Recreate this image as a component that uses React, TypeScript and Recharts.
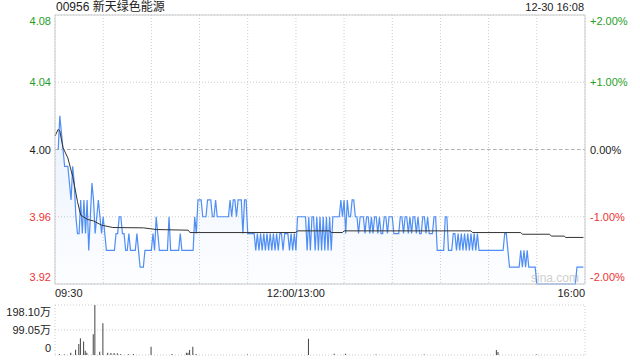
import React from 'react';
import { ComposedChart, Area, Line, Bar, XAxis, YAxis, CartesianGrid, ReferenceLine } from 'recharts';

// 00956 intraday, one value per minute from 09:30 (index 0)
const prevClose = 4.0;

const price = [
  4.00, 4.00, 4.00, 4.02, 4.01, 4.00, 3.99, 3.99, 3.99, 3.98,
  3.97, 3.99, 3.98, 3.96, 3.95, 3.95, 3.97, 3.95, 3.97, 3.95,
  3.97, 3.94, 3.96, 3.98, 3.97, 3.95, 3.96, 3.97, 3.96, 3.95,
  3.96, 3.95, 3.94, 3.94, 3.94, 3.94, 3.94, 3.94, 3.95, 3.95,
  3.96, 3.96, 3.95, 3.95, 3.94, 3.94, 3.95, 3.94, 3.94, 3.94,
  3.94, 3.95, 3.94, 3.93, 3.93, 3.93, 3.94, 3.94, 3.94, 3.94,
  3.94, 3.95, 3.94, 3.96, 3.95, 3.94, 3.94, 3.94, 3.94, 3.94,
  3.94, 3.96, 3.94, 3.94, 3.94, 3.94, 3.94, 3.94, 3.95, 3.94,
  3.94, 3.94, 3.94, 3.94, 3.94, 3.94, 3.94, 3.96, 3.95, 3.97,
  3.97, 3.97, 3.96, 3.96, 3.96, 3.97, 3.97, 3.97, 3.96, 3.96,
  3.97, 3.96, 3.96, 3.96, 3.96, 3.96, 3.96, 3.96, 3.96, 3.97,
  3.96, 3.97, 3.97, 3.96, 3.97, 3.97, 3.97, 3.95, 3.97, 3.97,
  3.95, 3.95, 3.95, 3.95, 3.95, 3.94, 3.95, 3.94, 3.95, 3.94,
  3.95, 3.94, 3.95, 3.94, 3.95, 3.94, 3.95, 3.94, 3.95, 3.94,
  3.95, 3.95, 3.94, 3.95, 3.95, 3.95, 3.94, 3.95, 3.94, 3.95,
  3.94, 3.96, 3.96, 3.96, 3.96, 3.96, 3.96, 3.94, 3.96, 3.94,
  3.96, 3.96, 3.94, 3.96, 3.94, 3.96, 3.94, 3.96, 3.94, 3.96,
  3.94, 3.96, 3.94, 3.96, 3.96, 3.96, 3.96, 3.96, 3.97, 3.96,
  3.97, 3.95, 3.97, 3.96, 3.96, 3.97, 3.97, 3.96, 3.96, 3.95,
  3.96, 3.96, 3.96, 3.95, 3.96, 3.96, 3.95, 3.96, 3.95, 3.96,
  3.96, 3.95, 3.96, 3.95, 3.95, 3.96, 3.96, 3.95, 3.96, 3.96,
  3.96, 3.95, 3.95, 3.95, 3.95, 3.96, 3.96, 3.95, 3.96, 3.96,
  3.95, 3.96, 3.95, 3.96, 3.96, 3.95, 3.96, 3.95, 3.95, 3.96,
  3.96, 3.95, 3.96, 3.95, 3.95, 3.95, 3.96, 3.96, 3.94, 3.94,
  3.94, 3.94, 3.94, 3.96, 3.96, 3.94, 3.94, 3.94, 3.95, 3.95,
  3.94, 3.95, 3.94, 3.95, 3.94, 3.95, 3.94, 3.95, 3.94, 3.95,
  3.94, 3.95, 3.94, 3.95, 3.94, 3.94, 3.94, 3.94, 3.94, 3.94,
  3.94, 3.94, 3.94, 3.94, 3.94, 3.94, 3.94, 3.94, 3.94, 3.94,
  3.95, 3.95, 3.94, 3.93, 3.93, 3.93, 3.93, 3.93, 3.93, 3.93,
  3.94, 3.93, 3.94, 3.93, 3.94, 3.93, 3.93, 3.93, 3.93, 3.93,
  3.92, 3.92, 3.92, 3.92, 3.92, 3.92, 3.92, 3.92, 3.92, 3.92,
  3.92, 3.92, 3.92, 3.92, 3.92, 3.92, 3.92, 3.92, 3.92, 3.92,
  3.92, 3.92, 3.92, 3.92, 3.92, 3.93, 3.93, 3.93, 3.93, 3.93,
];

// average price line, read at its corners
const avgTimes = [0, 2, 3, 5, 8, 11, 14, 16, 20, 24, 29, 36, 55, 63, 83, 84, 150, 151, 171, 172, 179, 180, 259, 260, 290, 291, 308, 309, 317, 318, 329];
const avgValues = [4.008, 4.012, 4.011, 4.001, 3.995, 3.984, 3.969, 3.961, 3.9585, 3.9575, 3.955, 3.9536, 3.9534, 3.9524, 3.952, 3.9506, 3.9506, 3.9516, 3.9516, 3.9506, 3.9506, 3.9516, 3.9516, 3.9506, 3.9506, 3.9496, 3.9496, 3.9485, 3.9485, 3.9477, 3.9477];

// volume in 万 shares (minutes without a visible bar are left out)
const volTimes = [3, 6, 10, 13, 15, 16, 18, 19, 20, 24, 25, 28, 30, 33, 35, 37, 39, 41, 46, 49, 60, 73, 82, 83, 84, 86, 88, 120, 158, 174, 181, 200, 230, 275, 276, 300];
const volValues = [3, 2, 9, 21, 44, 66, 53, 17, 9, 82, 198.1, 13, 126, 9, 8, 8, 7, 3, 3, 4, 33, 4, 9, 9, 20, 33, 4, 2, 64, 5, 5, 2, 2, 20, 12, 2];

const priceTicks = [3.92, 3.96, 4.0, 4.04, 4.08];
const pctTicks = [-2, -1, 0, 1, 2];
const timeTicks = [0, 30, 60, 90, 120, 150, 180, 210, 240, 270, 300, 330];
const timeLabels: Record<number, string> = { 0: '09:30', 150: '12:00/13:00', 330: '16:00' };
const volTicks = [0, 99.05, 198.1];
const volLabels = ['0', '99.05万', '198.10万'];

const priceRows = price.map((p, i) => ({ t: i, price: p, pct: ((p - prevClose) / prevClose) * 100 }));
const avgRows = avgTimes.map((t, i) => ({ t, avg: avgValues[i] }));
const volRows = volTimes.map((t, i) => ({ t, vol: volValues[i] }));

const FONT = '"Liberation Sans", Arial, "Noto Sans CJK SC", sans-serif';
const GREEN = '#1f9e1f';
const RED = '#ee3333';
const tone = (d: number) => (d > 1e-9 ? GREEN : d < -1e-9 ? RED : '#222');

const PriceTick = ({ x, y, payload }: any) => {
  const v = payload.value as number;
  const dy = Math.abs(v - 4.08) < 1e-6 ? 6 : Math.abs(v - 3.92) < 1e-6 ? -7 : 0;
  return (
    <text x={x} y={y + dy} textAnchor="end" dominantBaseline="central" fontSize={11} fontFamily={FONT} fill={tone(v - prevClose)}>
      {v.toFixed(2)}
    </text>
  );
};

const PctTick = ({ x, y, payload }: any) => {
  const v = payload.value as number;
  const dy = v === 2 ? 6 : v === -2 ? -7 : 0;
  return (
    <text x={x} y={y + dy} textAnchor="start" dominantBaseline="central" fontSize={11} fontFamily={FONT} fill={tone(v)}>
      {(v > 0 ? '+' : '') + v.toFixed(2) + '%'}
    </text>
  );
};

const TimeTick = ({ x, y, payload }: any) => {
  const v = payload.value as number;
  const label = timeLabels[v];
  if (!label) return null;
  const anchor = v === 0 ? 'start' : v === 330 ? 'end' : 'middle';
  return (
    <text x={x} y={y + 9} textAnchor={anchor} dominantBaseline="central" fontSize={11} fontFamily={FONT} fill="#222">
      {label}
    </text>
  );
};

const VolTick = ({ x, y, payload, index }: any) => {
  const dy = index === 2 ? 7 : index === 0 ? -7 : 0;
  return (
    <text x={x} y={y + dy} textAnchor="end" dominantBaseline="central" fontSize={11} fontFamily={FONT} fill="#222">
      {volLabels[index] ?? String(payload.value)}
    </text>
  );
};

export default function App() {
  return (
    <div style={{ position: 'absolute', left: 0, top: 0, width: 640, height: 360, background: '#fff', fontFamily: FONT }}>
      <div style={{ position: 'absolute', left: 56, top: 0, fontSize: 12, lineHeight: '14px', color: '#222' }}>00956 新天绿色能源</div>
      <div style={{ position: 'absolute', right: 56, top: 1, fontSize: 11, lineHeight: '13px', color: '#222' }}>12-30 16:08</div>
      <div style={{ position: 'absolute', left: 531, top: 271, fontSize: 12, color: '#cfcfcf' }}>sina.com</div>

      <div style={{ position: 'absolute', left: 0, top: 0 }}>
        <ComposedChart width={640} height={304} data={priceRows} margin={{ top: 15, right: 0, bottom: 0, left: 0 }}>
          <defs>
            <linearGradient id="priceFill" x1="0" y1="0" x2="0" y2="1">
              <stop offset="0%" stopColor="#4f8ef5" stopOpacity={0.2} />
              <stop offset="100%" stopColor="#4f8ef5" stopOpacity={0.02} />
            </linearGradient>
          </defs>
          <CartesianGrid yAxisId="left" stroke="#cccccc" strokeDasharray="1 2" />
          <XAxis
            dataKey="t"
            type="number"
            domain={[0, 330]}
            ticks={timeTicks}
            interval={0}
            height={20}
            tickSize={0}
            tickMargin={0}
            tickLine={false}
            axisLine={{ stroke: '#cccccc' }}
            tick={<TimeTick />}
          />
          <YAxis
            yAxisId="left"
            orientation="left"
            domain={[3.92, 4.08]}
            ticks={priceTicks}
            interval={0}
            width={55}
            tickSize={0}
            tickMargin={4}
            tickLine={false}
            axisLine={{ stroke: '#cccccc' }}
            tick={<PriceTick />}
          />
          <YAxis
            yAxisId="right"
            orientation="right"
            domain={[-2, 2]}
            ticks={pctTicks}
            interval={0}
            width={55}
            tickSize={0}
            tickMargin={5}
            tickLine={false}
            axisLine={{ stroke: '#cccccc' }}
            tick={<PctTick />}
          />
          <ReferenceLine yAxisId="left" y={4.08} stroke="#cccccc" />
          <ReferenceLine yAxisId="left" y={4.0} stroke="#b0b0b0" strokeDasharray="3 3" />
          <Area
            yAxisId="left"
            type="linear"
            dataKey="price"
            stroke="#4f8ef5"
            strokeWidth={1.2}
            fill="url(#priceFill)"
            dot={false}
            activeDot={false}
            isAnimationActive={false}
          />
          <Line
            yAxisId="right"
            type="linear"
            dataKey="pct"
            stroke="none"
            dot={false}
            activeDot={false}
            isAnimationActive={false}
          />
          <Line
            yAxisId="left"
            type="linear"
            data={avgRows}
            dataKey="avg"
            stroke="#333333"
            strokeWidth={1}
            dot={false}
            activeDot={false}
            isAnimationActive={false}
          />
        </ComposedChart>
      </div>

      <div style={{ position: 'absolute', left: 0, top: 298 }}>
        <ComposedChart width={640} height={62} data={volRows} margin={{ top: 7, right: 55, bottom: 5, left: 0 }}>
          <CartesianGrid vertical={false} stroke="#cccccc" strokeDasharray="1 2" />
          <XAxis dataKey="t" type="number" domain={[0, 330]} hide />
          <YAxis
            domain={[0, 198.1]}
            ticks={volTicks}
            interval={0}
            width={55}
            tickSize={0}
            tickMargin={4}
            tickLine={false}
            axisLine={{ stroke: '#cccccc', strokeDasharray: '1 2' }}
            tick={<VolTick />}
          />
          <ReferenceLine x={330} stroke="#cccccc" strokeDasharray="1 2" />
          <Bar dataKey="vol" barSize={1} fill="#444444" isAnimationActive={false} />
        </ComposedChart>
      </div>
    </div>
  );
}
